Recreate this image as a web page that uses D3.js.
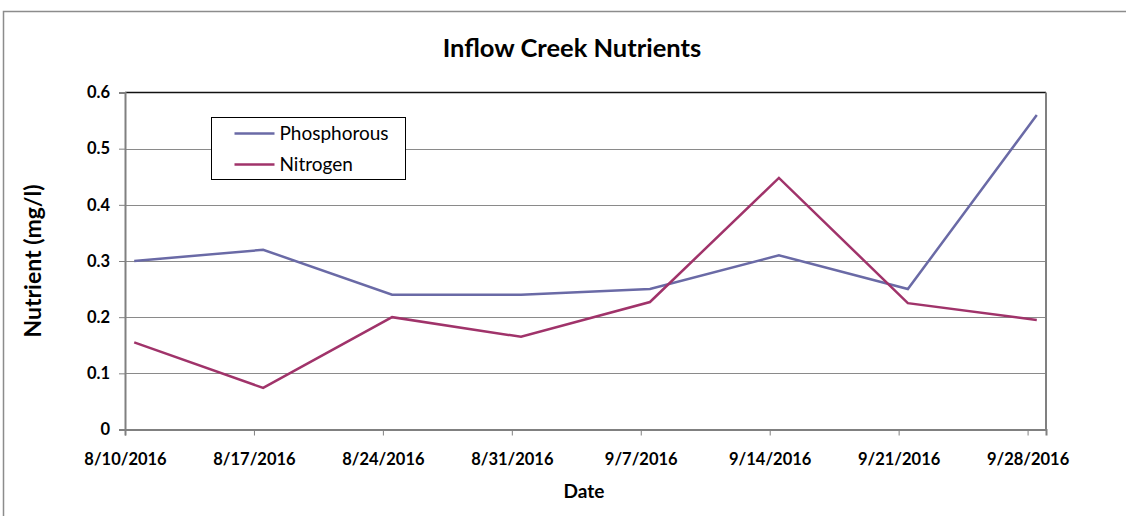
<!DOCTYPE html>
<html>
<head>
<meta charset="utf-8">
<script src="https://cdn.jsdelivr.net/npm/d3@7"></script>
<style>
  body { margin: 0; background: #fff; }
  svg { display: block; font-family: Lato, "Open Sans", sans-serif; }
</style>
</head>
<body>
<div id="chart"></div>
<script>
// data
var dates = ["8/10/2016", "8/17/2016", "8/24/2016", "8/31/2016", "9/7/2016", "9/14/2016", "9/21/2016", "9/28/2016"];
var phosphorous = [0.30, 0.32, 0.24, 0.24, 0.25, 0.31, 0.25, 0.56];
var nitrogen = [0.155, 0.074, 0.20, 0.165, 0.227, 0.448, 0.225, 0.195];
var yTicks = [0, 0.1, 0.2, 0.3, 0.4, 0.5, 0.6];
var seriesNames = ["Phosphorous", "Nitrogen"];
var seriesColors = ["#6a6aa6", "#a0336a"];

var parse = d3.timeParse("%m/%d/%Y");
var fmt = function (d) { return (d.getMonth() + 1) + "/" + d.getDate() + "/" + d.getFullYear(); };
var dayDates = dates.map(parse);

var width = 1126, height = 516;
var plotLeft = 125, plotRight = 1046, plotTop = 92.5, plotBottom = 429.5;

var svg = d3.select("#chart").append("svg")
	.attr("width", width)
	.attr("height", height);

// outer chart frame
svg.append("rect")
	.attr("x", 3.5).attr("y", 11.5)
	.attr("width", width + 10).attr("height", height + 10)
	.attr("fill", "#fff")
	.attr("stroke", "#8c8c8c").attr("stroke-width", 1.5);

// date axis: each day is a slot, points sit in the middle of the day
var x = d3.scaleTime()
	.domain([dayDates[0], d3.timeDay.offset(dayDates[dayDates.length - 1], 1)])
	.range([plotLeft, plotRight]);
var y = d3.scaleLinear().domain([0, 0.6]).range([plotBottom, plotTop]);

var mid = function (d) { return x(d3.timeHour.offset(d, 12)); };

// gridlines
svg.append("g").selectAll("line")
	.data(yTicks.slice(1, -1))
	.enter().append("line")
	.attr("x1", plotLeft).attr("x2", plotRight)
	.attr("y1", function (d) { return Math.round(y(d)) + 0.5; })
	.attr("y2", function (d) { return Math.round(y(d)) + 0.5; })
	.attr("stroke", "#8a8a8a").attr("stroke-width", 1);

// plot area border
svg.append("line")
	.attr("x1", plotLeft).attr("x2", plotRight).attr("y1", plotTop).attr("y2", plotTop)
	.attr("stroke", "#111").attr("stroke-width", 1.5);
svg.append("line")
	.attr("x1", plotRight).attr("x2", plotRight).attr("y1", plotTop).attr("y2", plotBottom)
	.attr("stroke", "#808080").attr("stroke-width", 2);

// y axis
var yAxis = d3.axisLeft(y)
	.tickValues(yTicks)
	.tickFormat(function (d) { return d === 0 ? "0" : d3.format(".1f")(d); })
	.tickSize(6).tickPadding(9);
var gy = svg.append("g").attr("transform", "translate(" + plotLeft + ",0)").call(yAxis);
gy.select(".domain").attr("stroke", "#808080").attr("stroke-width", 2);
gy.selectAll(".tick line").attr("stroke", "#808080");
gy.selectAll("text").attr("font-size", 16.5).attr("font-weight", "bold").attr("fill", "#000")
	.attr("font-family", "Lato, 'Open Sans', sans-serif");

// x axis
var xAxis = d3.axisBottom(x)
	.tickValues(dayDates)
	.tickFormat(fmt)
	.tickSize(6).tickPadding(18);
var gx = svg.append("g").attr("transform", "translate(0," + plotBottom + ")").call(xAxis);
gx.select(".domain").attr("stroke", "#808080").attr("stroke-width", 2);
gx.selectAll(".tick line").attr("stroke", "#808080");
gx.selectAll("text").attr("font-size", 16.5).attr("font-weight", "bold").attr("fill", "#000")
	.attr("font-family", "Lato, 'Open Sans', sans-serif");

// lines
var allSeries = [phosphorous, nitrogen];
var line = d3.line()
	.x(function (d, i) { return mid(dayDates[i]); })
	.y(function (d) { return y(d); });

allSeries.forEach(function (s, k) {
	svg.append("path")
		.datum(s)
		.attr("d", line)
		.attr("fill", "none")
		.attr("stroke", seriesColors[k])
		.attr("stroke-width", 2.5)
		.attr("stroke-linejoin", "miter");
});

// titles
svg.append("text")
	.attr("x", 572).attr("y", 57)
	.attr("text-anchor", "middle")
	.attr("font-size", 25.5).attr("font-weight", "bold")
	.text("Inflow Creek Nutrients");

svg.append("text")
	.attr("x", 584).attr("y", 498)
	.attr("text-anchor", "middle")
	.attr("font-size", 19).attr("font-weight", "bold")
	.text("Date");

svg.append("text")
	.attr("transform", "translate(41,261) rotate(-90)")
	.attr("text-anchor", "middle")
	.attr("font-size", 23).attr("font-weight", "bold")
	.text("Nutrient (mg/l)");

// legend
var legend = svg.append("g").attr("transform", "translate(211.5,117.5)");
legend.append("rect")
	.attr("width", 194).attr("height", 62)
	.attr("fill", "#fff").attr("stroke", "#000").attr("stroke-width", 1);
seriesNames.forEach(function (name, k) {
	var ly = 16 + k * 31;
	legend.append("line")
		.attr("x1", 23).attr("x2", 63).attr("y1", ly).attr("y2", ly)
		.attr("stroke", seriesColors[k]).attr("stroke-width", 2.5);
	legend.append("text")
		.attr("x", 68).attr("y", ly + 6.5)
		.attr("font-size", 19)
		.text(name);
});
</script>
</body>
</html>
